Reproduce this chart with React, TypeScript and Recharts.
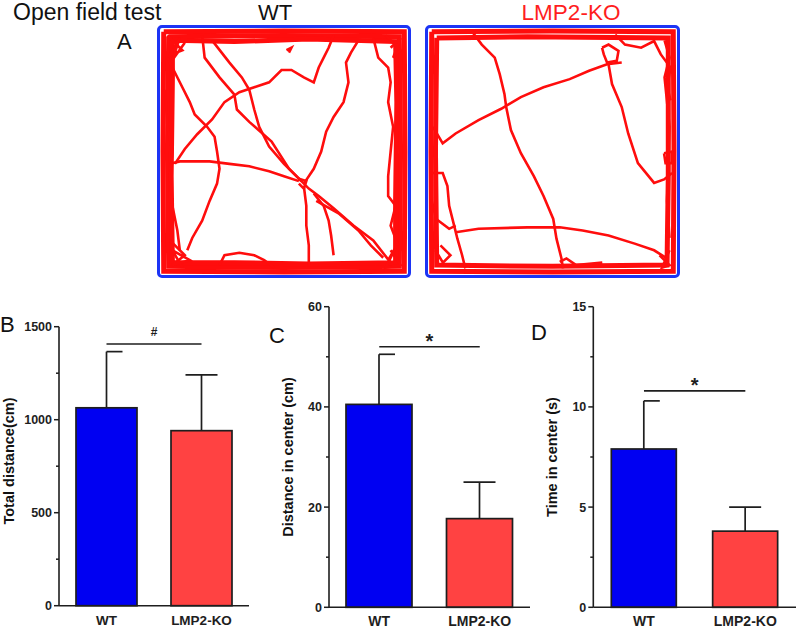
import React from "react";
import { BarChart, Bar, XAxis, YAxis, ReferenceLine, LineChart, Line } from "recharts";

const GROUPS = ["WT", "LMP2-KO"];
const BAR_COLORS = ["#0000f2", "#ff4242"];

// B, C, D: mean and error (upper whisker)
const TOTAL_DIST = [1064, 941];
const TOTAL_DIST_ERR = [302, 300];
const CENTER_DIST = [40.5, 17.7];
const CENTER_DIST_ERR = [10, 7.3];
const CENTER_TIME = [7.9, 3.8];
const CENTER_TIME_ERR = [2.4, 1.2];

const TICKS_B = [0, 250, 500, 750, 1000, 1250, 1500];
const TICKS_C = [0, 10, 20, 30, 40, 50, 60];
const TICKS_D = [0, 2.5, 5, 7.5, 10, 12.5, 15];

// open field tracks, arena units 0-100 (y from top)
const WT_EDGE: number[][][] = [
  [[1.5, 1.5], [50, 1.2], [98.5, 1.5], [98.8, 50], [98.5, 98.5], [50, 98.8], [1.5, 98.5], [1.2, 50], [1.5, 1.5]],
  [[3.5, 3.5], [50, 3], [96.5, 3.5], [97, 50], [96.5, 96.5], [50, 97], [3.5, 96.5], [3, 50], [3.5, 3.5]],
  [[5, 5], [30, 5.5], [60, 4.5], [95, 5.5], [95.5, 30], [95, 70], [95, 95], [60, 95.5], [30, 95], [5, 95], [4.5, 60], [5, 20], [5, 5]],
];
const WT_TRACKS: number[][][] = [
  [[3, 3], [9, 9], [4, 11], [8, 4], [5, 13], [10, 6]],
  [[4, 86], [10, 92], [5, 96], [12, 94], [5, 90], [9, 97]],
  [[93, 90], [97, 96], [91, 97], [96, 87], [92, 94]],
  [[91, 3], [97, 9], [94, 12], [97, 4], [93, 8]],
  [[17, 3], [18, 12], [24, 20], [30, 27], [31, 33], [36, 38], [45, 46], [52, 57], [57, 62]],
  [[21, 5], [28, 14], [33, 20], [36, 25], [38, 33], [40, 40], [44, 48], [50, 55], [55, 60], [60, 65], [64, 68], [70, 73], [78, 80], [86, 86], [93, 95]],
  [[3, 12], [6, 18], [9, 24], [12, 30], [14, 35], [19, 40], [22, 44], [23, 50], [24, 57], [23, 63], [20, 70], [17, 78], [13, 85], [11, 90]],
  [[4, 55], [8, 54], [13, 54], [20, 54], [28, 55], [36, 56], [44, 58], [50, 60], [56, 62]],
  [[6, 55], [10, 49], [15, 43], [21, 37], [26, 30], [32, 26], [38, 24], [44, 22], [49, 17], [53, 17], [58, 20], [62, 22], [64, 16], [66, 12], [68, 8], [70, 3]],
  [[58, 63], [62, 57], [65, 50], [67, 42], [70, 36], [74, 30], [76, 22], [75, 14], [77, 10], [80, 5]],
  [[86, 4], [88, 12], [92, 16], [93, 22], [92, 30], [94, 40], [93, 50], [92, 60], [92, 68], [95, 72], [93, 80], [96, 88]],
  [[58, 64], [59, 72], [59, 80], [60, 88], [60, 96]],
  [[62, 67], [66, 72], [68, 78], [69, 84], [70, 92]],
  [[63, 70], [72, 75], [80, 82], [85, 88], [90, 93]],
  [[2, 25], [3, 40], [5, 50], [4, 60], [5, 72], [7, 82], [8, 90]],
  [[24, 96], [26, 92], [32, 91], [38, 92], [42, 94], [46, 97]],
  [[51, 9], [53, 8], [52, 10]],
  [[56, 61], [59, 62], [58, 65], [56, 63]],
];

const KO_EDGE: number[][][] = [
  [[1.5, 1.5], [50, 1.2], [98.5, 1.5], [98.8, 50], [98.5, 98.5], [50, 98.8], [1.5, 98.5], [1.2, 50], [1.5, 1.5]],
  [[3.5, 4], [40, 3.5], [96.5, 4], [96.5, 60], [96, 96], [50, 96.5], [3.5, 96], [3, 50], [3.5, 4]],
];
const KO_TRACKS: number[][][] = [
  [[17.6, 1.3], [21.6, 6.7], [26.8, 12], [28.8, 18.7], [30.7, 26.7], [31.4, 32], [33.3, 41.3], [37.3, 50.7], [42.5, 60], [46.4, 68], [50.3, 77.3], [51.6, 85.3], [53.6, 93.3], [54.2, 97.3]],
  [[2, 40], [5.9, 46.7], [11.1, 42.7], [20.3, 37.3], [29.4, 32.7], [37.3, 28], [46.4, 24], [56.9, 20.7], [64.7, 17.3], [71.9, 14.7], [77.8, 14]],
  [[69.9, 8], [72.5, 6.7], [76.5, 9.3], [75.8, 13.3], [71.9, 14], [70.6, 10.7], [69.9, 8]],
  [[72.5, 14.7], [73.9, 22.7], [77.8, 32], [80.4, 42.7], [84.3, 54.7], [90.8, 62.7], [94.8, 61.3], [98, 58.7]],
  [[11.1, 82.7], [20.3, 81.3], [39.9, 80.7], [52.9, 80.7], [62.1, 82], [72.5, 84], [83, 87.3], [90.8, 90], [96, 93.3]],
  [[1.3, 58.7], [5.9, 58.7], [7.8, 64], [8.5, 72], [10.5, 80], [11.8, 85.3], [13.7, 92], [15, 97.3]],
  [[1.3, 69.3], [3.3, 77.3], [8.5, 81.3], [11.1, 80]],
  [[94.8, 50.7], [98, 50], [98, 54.7], [95.4, 54.7], [94.8, 50.7]],
  [[75.2, 2.7], [79.1, 6.7], [85.6, 8], [90.8, 5.3], [93.5, 10.7], [97.4, 16], [96.1, 24], [97.4, 29.3]],
  [[52.9, 94.7], [55.6, 93.3], [59.5, 96], [70, 95]],
  [[3, 90], [6, 95], [9, 92], [5, 88]],
  [[93, 92], [97, 96], [94, 97], [97, 90]],
  [[95, 5], [97, 12], [95, 20], [97, 40], [96, 70], [97, 85]],
];

const FONT = "'Liberation Sans', Arial, sans-serif";
const INK = "#1e1e1e";
const TRACK = "#ff0d0d";

function toPts(path: number[][]) {
  return path.map(([x, y]) => ({ x, y }));
}

function Arena({ left, width, edge, tracks }: { left: number; width: number; edge: number[][][]; tracks: number[][][] }) {
  return (
    <div
      style={{
        position: "absolute", left, top: 25, width, height: 253,
        border: "3px solid #1c34f5", borderRadius: 5, boxSizing: "border-box", overflow: "hidden",
      }}
    >
      <LineChart width={width - 6} height={247} margin={{ top: 0, right: 0, bottom: 0, left: 0 }}>
        <XAxis type="number" dataKey="x" domain={[0, 100]} hide />
        <YAxis type="number" domain={[0, 100]} reversed hide />
        {edge.map((p, i) => (
          <Line key={"e" + i} data={toPts(p)} dataKey="y" type="linear" stroke={TRACK}
            strokeWidth={5} dot={false} isAnimationActive={false} />
        ))}
        {tracks.map((p, i) => (
          <Line key={"t" + i} data={toPts(p)} dataKey="y" type="linear" stroke={TRACK}
            strokeWidth={2.6} dot={false} isAnimationActive={false} />
        ))}
      </LineChart>
    </div>
  );
}

function ErrBar(props: any) {
  const { x, y, width, height, payload, index } = props;
  const pxPer = height / payload.mean;
  const top = y - payload.err * pxPer;
  const cx = x + width / 2;
  const capL = index === 0 ? cx : cx - 16;
  return (
    <g>
      <line x1={cx} x2={cx} y1={y} y2={top} stroke={INK} strokeWidth={1.7} />
      <line x1={capL} x2={cx + 16} y1={top} y2={top} stroke={INK} strokeWidth={1.7} />
      <rect x={x} y={y} width={width} height={height} fill={BAR_COLORS[index]} stroke={INK} strokeWidth={1.7} />
    </g>
  );
}

function makeYTick(majorEvery: number) {
  return (props: any) => {
    const { x, y, payload } = props;
    const major = Math.abs(payload.value / majorEvery - Math.round(payload.value / majorEvery)) < 1e-6;
    return (
      <g>
        <line x1={x - (major ? 5 : 3)} x2={x} y1={y} y2={y} stroke={INK} strokeWidth={1.5} />
        {major && (
          <text x={x - 7} y={y + 4.5} textAnchor="end" fontFamily={FONT} fontWeight="bold" fontSize={12.5} fill={INK}>
            {payload.value}
          </text>
        )}
      </g>
    );
  };
}

function makeXTick(size: number) {
  return (props: any) => {
    const { x, y, payload } = props;
    return (
      <text x={x} y={y + 19} textAnchor="middle" fontFamily={FONT} fontWeight="bold" fontSize={size} fill={INK}>
        {payload.value}
      </text>
    );
  };
}

function SigLabel(props: any) {
  const { viewBox, text, size, dy } = props;
  return (
    <text x={viewBox.x + viewBox.width / 2} y={viewBox.y + dy} textAnchor="middle" fontFamily={FONT}
      fontWeight="bold" fontSize={size} fill={INK}>
      {text}
    </text>
  );
}

type PanelProps = {
  left: number; width: number; axisW: number; top: number; bottom: number; right: number;
  means: number[]; errs: number[]; ticks: number[]; major: number; barSize: number; xFont: number;
  sigY: number; sigText: string; sigSize: number; sigDy: number;
};

function Panel(p: PanelProps) {
  const data = GROUPS.map((g, i) => ({ name: g, mean: p.means[i], err: p.errs[i] }));
  const max = p.ticks[p.ticks.length - 1];
  return (
    <div style={{ position: "absolute", left: p.left, top: 290 }}>
      <BarChart width={p.width} height={338} data={data} barSize={p.barSize}
        margin={{ top: p.top, right: p.right, bottom: p.bottom, left: 0 }}>
        <XAxis dataKey="name" height={20} axisLine={{ stroke: INK, strokeWidth: 1.6 }} tickLine={false}
          tickSize={0} tickMargin={0} tick={makeXTick(p.xFont)} interval={0} />
        <YAxis width={p.axisW} domain={[0, max]} ticks={p.ticks} interval={0}
          axisLine={{ stroke: INK, strokeWidth: 1.6 }} tickLine={false} tickSize={0} tickMargin={0}
          tick={makeYTick(p.major)} />
        <Bar dataKey="mean" shape={ErrBar} isAnimationActive={false} />
        <ReferenceLine
          segment={[{ x: GROUPS[0], y: p.sigY }, { x: GROUPS[1], y: p.sigY }]}
          stroke={INK} strokeWidth={1.6}
          label={<SigLabel text={p.sigText} size={p.sigSize} dy={p.sigDy} />}
        />
      </BarChart>
    </div>
  );
}

export default function App() {
  return (
    <div style={{ position: "absolute", left: 0, top: 0, width: 796, height: 628, background: "#fff", overflow: "hidden" }}>
      <Arena left={157} width={254} edge={WT_EDGE} tracks={WT_TRACKS} />
      <Arena left={425} width={255} edge={KO_EDGE} tracks={KO_TRACKS} />

      <Panel left={0} width={260} axisW={59} top={36.7} bottom={2.3} right={11}
        means={TOTAL_DIST} errs={TOTAL_DIST_ERR} ticks={TICKS_B} major={500} barSize={61} xFont={13.5}
        sigY={1407} sigText="#" sigSize={12} sigDy={-8} />
      <Panel left={270} width={260} axisW={59} top={16.7} bottom={0.7} right={0}
        means={CENTER_DIST} errs={CENTER_DIST_ERR} ticks={TICKS_C} major={20} barSize={66} xFont={14}
        sigY={52} sigText="*" sigSize={20} sigDy={1} />
      <Panel left={534} width={262} axisW={59.3} top={16.7} bottom={0.7} right={0}
        means={CENTER_TIME} errs={CENTER_TIME_ERR} ticks={TICKS_D} major={5} barSize={65} xFont={14}
        sigY={10.8} sigText="*" sigSize={20} sigDy={1} />

      <svg width={796} height={628} style={{ position: "absolute", left: 0, top: 0, pointerEvents: "none" }}>
        <g fontFamily={FONT} fill="#111">
          <text x={13} y={20} fontSize={23}>Open field test</text>
          <text x={275} y={20} fontSize={22} textAnchor="middle">WT</text>
          <text x={571} y={20} fontSize={22.5} textAnchor="middle" fill="#ff1e1e">LMP2-KO</text>
          <text x={117} y={49} fontSize={22}>A</text>
          <text x={0} y={332} fontSize={22}>B</text>
          <text x={269} y={343} fontSize={22}>C</text>
          <text x={531} y={340} fontSize={22}>D</text>
          <text x={14} y={461} fontSize={14.5} fontWeight="bold" textAnchor="middle" transform="rotate(-90 14 461)">Total distance(cm)</text>
          <text x={293} y={457} fontSize={14.5} fontWeight="bold" textAnchor="middle" transform="rotate(-90 293 457)">Distance in center (cm)</text>
          <text x={557} y={457} fontSize={14.5} fontWeight="bold" textAnchor="middle" transform="rotate(-90 557 457)">Time in center (s)</text>
        </g>
      </svg>
    </div>
  );
}
